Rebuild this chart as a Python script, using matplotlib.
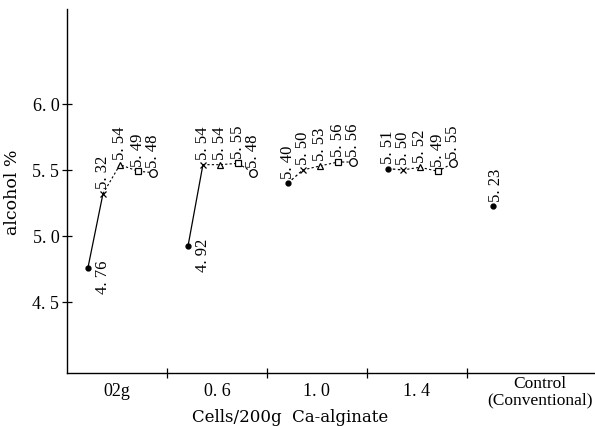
import matplotlib.pyplot as plt

plt.rcParams["font.family"] = ["Liberation Serif", "DejaVu Serif"]

# data
groups = ["02g", "0.6", "1.0", "1.4", "Control\n(Conventional)"]
dot = [4.76, 4.92, 5.40, 5.51, 5.23]
cross = [5.32, 5.54, 5.50, 5.50]
triangle = [5.54, 5.54, 5.53, 5.52]
square = [5.49, 5.55, 5.56, 5.49]
circle = [5.48, 5.48, 5.56, 5.55]
solid_link = [True, True, False, False]   # dot -> x segment drawn solid

# layout
offs = [-0.29, -0.14, 0.03, 0.21, 0.36]
styles = [
    dict(marker="o", ms=3.5, mfc="black", mec="black"),
    dict(marker="x", ms=4.5, mec="black", mew=0.9),
    dict(marker="^", ms=5, mfc="white", mec="black", mew=0.9),
    dict(marker="s", ms=4.5, mfc="white", mec="black", mew=0.9),
    dict(marker="o", ms=5.5, mfc="white", mec="black", mew=0.9),
]


def fmt(v):
    # printed as "5. 54" in the original
    return "%d. %02d" % (int(v), round(v * 100) % 100)


fig = plt.figure(figsize=(5.95, 4.27), dpi=100)
ax = fig.add_axes([0.1126, 0.124, 0.887, 0.8525])

lab_kw = dict(rotation=90, fontsize=12, ha="center", va="bottom")

for i in range(4):
    vals = [dot[i], cross[i], triangle[i], square[i], circle[i]]
    xs = [i + o for o in offs]
    ax.plot(xs[:2], vals[:2], color="black", lw=0.9,
            ls="-" if solid_link[i] else (0, (2, 2)))
    ax.plot(xs[1:], vals[1:], color="black", lw=0.8, ls=(0, (2, 2)))
    for k, (x, v) in enumerate(zip(xs, vals)):
        ax.plot([x], [v], ls="none", zorder=3, **styles[k])
        if k == 0 and solid_link[i]:
            ax.annotate(fmt(v), (x, v), xytext=(11, -6),
                        textcoords="offset points", rotation=90,
                        fontsize=12, ha="center", va="center")
        else:
            ax.annotate(fmt(v), (x, v), xytext=(0, 4),
                        textcoords="offset points", **lab_kw)

# control
xc = 4 + offs[0] + 0.05
ax.plot([xc], [dot[4]], ls="none", **styles[0])
ax.annotate(fmt(dot[4]), (xc, dot[4]), xytext=(2, 3),
            textcoords="offset points", **lab_kw)

ax.set_xlim(-0.5, 4.78)
ax.set_ylim(3.96, 6.72)
ax.set_yticks([4.5, 5.0, 5.5, 6.0])
ax.set_yticklabels(["4. 5", "5. 0", "5. 5", "6. 0"], fontsize=13)
ax.set_xticks([0.5, 1.5, 2.5, 3.5])
ax.set_xticklabels([])
ax.tick_params(direction="inout", length=7, width=0.9, pad=2)
for s in ["top", "right"]:
    ax.spines[s].set_visible(False)
for s in ["left", "bottom"]:
    ax.spines[s].set_linewidth(1.0)

for i, g in enumerate(groups):
    if i < 4:
        ax.text(i, -0.025, g.replace(".", ". "), transform=ax.get_xaxis_transform(),
                ha="center", va="top", fontsize=13)
    else:
        ax.text(i + 0.23, -0.004, g, transform=ax.get_xaxis_transform(),
                ha="center", va="top", fontsize=12.5, linespacing=1.05)

ax.text(1.73, -0.095, "Cells/200g  Ca-alginate", transform=ax.get_xaxis_transform(),
        ha="center", va="top", fontsize=12, family="DejaVu Serif")
ax.set_ylabel("alcohol %", fontsize=12.5, labelpad=8, family="DejaVu Serif")

plt.savefig("out.png", dpi=100)
plt.close(fig)
